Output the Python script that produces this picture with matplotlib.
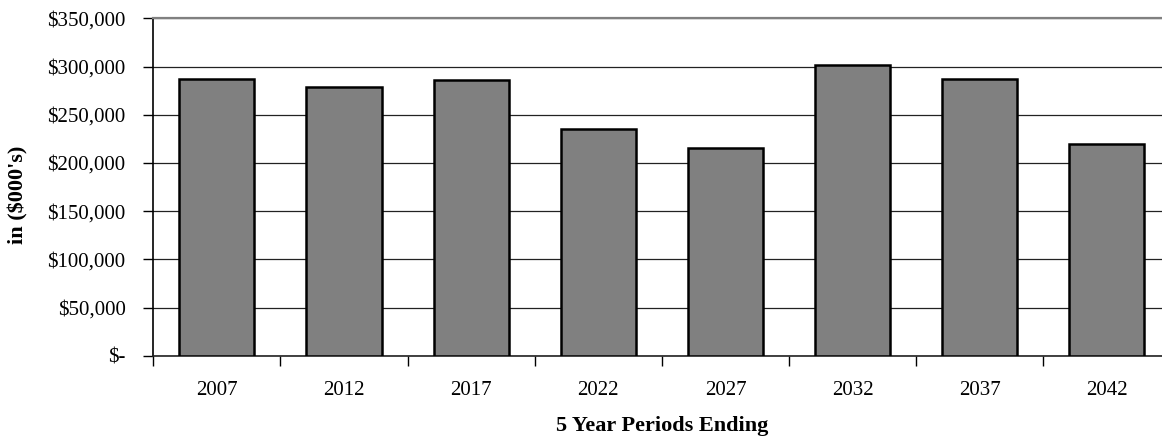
import matplotlib
matplotlib.use('Agg')
import matplotlib.pyplot as plt
from matplotlib.ticker import FuncFormatter, FixedLocator

periods = ['2007', '2012', '2017', '2022', '2027', '2032', '2037', '2042']
values = [287, 278.5, 286.5, 235.5, 215, 301.5, 287, 219.5]  # in thousands

plt.rcParams['font.family'] = ['Liberation Serif', 'DejaVu Serif']

fig = plt.figure(figsize=(11.62, 4.38), dpi=100)
ax = fig.add_axes([0.1319, 0.1879, 0.8754, 0.7703])

x = list(range(len(periods)))
vals = [v * 1000 for v in values]
ax.bar(x, vals, width=0.59, color='#808080', edgecolor='black', linewidth=1.8, zorder=3)

ax.set_xlim(-0.5, len(periods) - 0.5)
ax.set_ylim(0, 350000)
ax.set_yticks(range(0, 350001, 50000))

def money(v, pos):
	if v == 0:
		return '$-'
	return '${:,.0f}'.format(v)

ax.yaxis.set_major_formatter(FuncFormatter(money))
ax.yaxis.grid(True, color='#222222', linewidth=0.9, zorder=0)

ax.xaxis.set_major_locator(FixedLocator([i - 0.5 for i in range(len(periods) + 1)]))
ax.xaxis.set_minor_locator(FixedLocator(x))
ax.set_xticklabels([''] * (len(periods) + 1))
ax.set_xticklabels(periods, minor=True)
ax.tick_params(axis='x', which='major', length=7, width=1, direction='out', color='black')
ax.tick_params(axis='x', which='minor', length=0, pad=18, labelsize=15)
ax.tick_params(axis='y', length=7, width=1, direction='out', pad=13, labelsize=15)

ax.spines['right'].set_visible(False)
ax.spines['top'].set_color('#808080')
ax.spines['top'].set_linewidth(1.6)
ax.spines['left'].set_linewidth(1.2)
ax.spines['bottom'].set_linewidth(1.2)
ax.spines['bottom'].set_color('#222222')

ax.set_ylabel("in ($000's)", fontsize=16, fontweight='bold')
ax.yaxis.set_label_coords(-0.123, 0.476)
ax.set_xlabel('5 Year Periods Ending', fontsize=16, fontweight='bold')
ax.xaxis.set_label_coords(0.5, -0.178)

fig.savefig('out.png', dpi=100)
